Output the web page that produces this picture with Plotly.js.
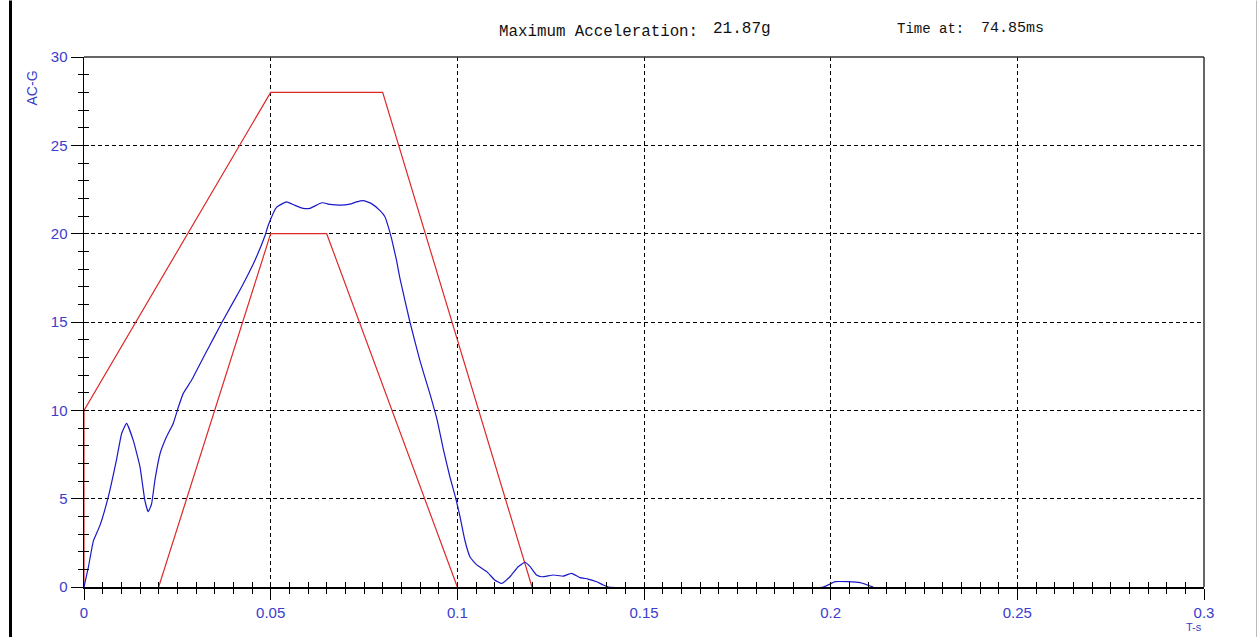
<!DOCTYPE html>
<html>
<head>
<meta charset="utf-8">
<script src="https://cdn.plot.ly/plotly-3.0.1.min.js"></script>
<style>html,body{margin:0;padding:0;background:#fff;}#chart{width:1258px;height:637px;}</style>
</head>
<body>
<div id="chart"></div>
<script>
// Measured acceleration (blue)
const timeS = [0,0.0012,0.0025,0.0043,0.0065,0.0087,0.0101,0.0114,0.0132,0.015,0.0163,0.0172,0.0181,0.019,0.0204,0.0221,0.0239,0.0253,0.0266,0.0288,0.032,0.035,0.037,0.042,0.0458,0.0485,0.0494,0.0516,0.0543,0.0565,0.0587,0.0605,0.0637,0.0659,0.0686,0.0712,0.073,0.0748,0.077,0.0793,0.0806,0.0815,0.0824,0.0837,0.0846,0.0873,0.090,0.0927,0.0946,0.0963,0.098,0.0996,0.1007,0.102,0.1034,0.1052,0.1079,0.110,0.1119,0.1141,0.1163,0.1181,0.1195,0.1212,0.1226,0.1257,0.1284,0.1306,0.1329,0.135,0.1373,0.1391,0.1405,0.198,0.2012,0.2047,0.2079,0.2114];
const accelG = [0,1.15,2.6,3.5,5.1,7.2,8.7,9.26,8.3,6.8,4.9,4.26,4.7,6.05,7.57,8.5,9.26,10.2,10.96,11.7,13.0,14.2,15.0,16.9,18.5,19.9,20.5,21.5,21.8,21.6,21.43,21.43,21.75,21.66,21.62,21.67,21.8,21.87,21.7,21.3,20.96,20.4,19.7,18.5,17.5,15.0,12.8,10.9,9.45,7.75,6.24,5.0,4.0,2.66,1.7,1.25,0.87,0.4,0.2,0.58,1.15,1.4,1.15,0.68,0.58,0.68,0.62,0.77,0.53,0.45,0.3,0.11,0,0,0.3,0.3,0.25,0];
// Upper tolerance corridor (red)
const upperT = [0,0,0.05,0.08,0.12];
const upperG = [0,10,28,28,0];
// Lower tolerance corridor (red)
const lowerT = [0.02,0.05,0.065,0.1];
const lowerG = [0,20,20,0];
// Tick labels
const xTickVals = [0,0.05,0.1,0.15,0.2,0.25,0.3];
const xTickText = ["0","0.05","0.1","0.15","0.2","0.25","0.3"];
const yTickVals = [0,5,10,15,20,25,30];
const yTickText = ["0","5","10","15","20","25","30"];
const maxAccelText = "21.87g";
const timeAtText = "74.85ms";

const red = "rgb(222,40,40)";
const blue = "rgb(25,25,200)";
const labelBlue = "rgb(60,60,205)";
const tickFont = {family:"Liberation Sans, Arial, sans-serif", size:15, color:labelBlue};
const monoFamily = "Liberation Mono, DejaVu Sans Mono, monospace";

const traces = [
  {x:upperT, y:upperG, mode:"lines", line:{color:red, width:1.2}, hoverinfo:"skip", showlegend:false},
  {x:lowerT, y:lowerG, mode:"lines", line:{color:red, width:1.2}, hoverinfo:"skip", showlegend:false},
  {x:timeS, y:accelG, mode:"lines", line:{color:blue, width:1.2, shape:"spline", smoothing:0.4}, showlegend:false},
  {x:[0,0.3], y:[0,30], xaxis:"x2", yaxis:"y2", mode:"markers", marker:{opacity:0}, hoverinfo:"skip", showlegend:false}
];

const px = v => (v-84)/1120;
const py = v => (587-v)/530.5;

const layout = {
  width:1258, height:637,
  margin:{l:84, r:54, t:57, b:50, pad:0},
  paper_bgcolor:"#fff", plot_bgcolor:"#fff",
  showlegend:false,
  xaxis:{range:[0,0.3], tickvals:xTickVals, ticktext:xTickText, ticks:"outside", ticklen:11, tickwidth:1, tickcolor:"#000",
    minor:{dtick:0.005, tick0:0, ticks:"outside", ticklen:5, tickcolor:"#000", tickwidth:1, showgrid:false},
    showgrid:true, gridcolor:"#000", griddash:"4px,3px", gridwidth:1, layer:"above traces",
    showline:true, linecolor:"#000", linewidth:2, mirror:false, zeroline:false, tickfont:tickFont, fixedrange:true},
  yaxis:{range:[0,30], tickvals:yTickVals, ticktext:yTickText, ticks:"outside", ticklen:12, tickwidth:1, tickcolor:"#000",
    minor:{dtick:1, tick0:0, ticks:"outside", ticklen:5, tickcolor:"#000", tickwidth:1, showgrid:false},
    showgrid:true, gridcolor:"#000", griddash:"4px,3px", gridwidth:1, layer:"below traces",
    showline:true, linecolor:"#000", linewidth:1.5, mirror:false, zeroline:false, tickfont:tickFont, fixedrange:true},
  xaxis2:{overlaying:"x", range:[0,0.3], side:"bottom", anchor:"y2", showgrid:false, zeroline:false, showline:false, showticklabels:false,
    dtick:0.005, tick0:0, ticks:"inside", ticklen:5, tickcolor:"#000", tickwidth:1, fixedrange:true},
  yaxis2:{overlaying:"y", range:[0,30], side:"left", anchor:"x2", showgrid:false, zeroline:false, showline:false, showticklabels:false,
    dtick:1, tick0:0, ticks:"inside", ticklen:5, tickcolor:"#000", tickwidth:1, fixedrange:true},
  shapes:[
    {type:"line", xref:"paper", yref:"paper", x0:0, x1:1, y0:1, y1:1, line:{color:"#333", width:1.5}},
    {type:"line", xref:"paper", yref:"paper", x0:1, x1:1, y0:0, y1:1, line:{color:"#333", width:1.5}},
    {type:"line", xref:"paper", yref:"paper", x0:px(10.5), x1:px(10.5), y0:py(0), y1:py(637), line:{color:"#000", width:3}},
    {type:"line", xref:"paper", yref:"paper", x0:px(1256.5), x1:px(1256.5), y0:py(0), y1:py(637), line:{color:"#bbb", width:1}}
  ],
  annotations:[
    {xref:"paper", yref:"paper", x:px(497), y:py(31), xanchor:"left", yanchor:"middle", showarrow:false,
      text:"Maximum Acceleration:", font:{family:monoFamily, size:15.8, color:"#111"}},
    {xref:"paper", yref:"paper", x:px(711), y:py(28), xanchor:"left", yanchor:"middle", showarrow:false,
      text:maxAccelText, font:{family:monoFamily, size:16, color:"#111"}},
    {xref:"paper", yref:"paper", x:px(966), y:py(28), xanchor:"right", yanchor:"middle", showarrow:false,
      text:"Time at:", font:{family:monoFamily, size:14, color:"#111"}},
    {xref:"paper", yref:"paper", x:px(979), y:py(28), xanchor:"left", yanchor:"middle", showarrow:false,
      text:timeAtText, font:{family:monoFamily, size:15, color:"#111"}},
    {xref:"paper", yref:"paper", x:px(32), y:py(88), xanchor:"center", yanchor:"middle", showarrow:false, textangle:-90,
      text:"AC-G", font:{family:"Liberation Sans, Arial, sans-serif", size:14, color:labelBlue}},
    {xref:"paper", yref:"paper", x:px(1194), y:py(627), xanchor:"center", yanchor:"middle", showarrow:false,
      text:"T-s", font:{family:"Liberation Sans, Arial, sans-serif", size:11, color:labelBlue}}
  ]
};

Plotly.newPlot("chart", traces, layout, {displayModeBar:false, staticPlot:true});
</script>
</body>
</html>
